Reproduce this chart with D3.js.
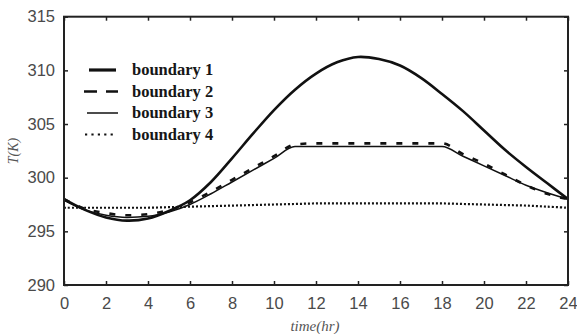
<!DOCTYPE html>
<html>
<head>
<meta charset="utf-8">
<script src="https://cdn.jsdelivr.net/npm/d3@7"></script>
<style>
  html, body { margin: 0; padding: 0; background: #fff; }
  svg { display: block; }
</style>
</head>
<body>
<svg id="chart" width="577" height="334"></svg>
<script>
// Hourly temperature (K) for the four boundary conditions
const hours = [0,1,2,3,4,5,6,7,8,9,10,11,12,13,14,15,16,17,18,19,20,21,22,23,24];
const boundary1 = [298.0,297.0,296.3,296.0,296.2,296.9,297.9,299.6,301.8,304.1,306.3,308.2,309.7,310.75,311.25,311.05,310.45,309.3,307.8,306.2,304.4,302.6,301.0,299.5,298.0];
const boundary2 = [298.0,297.1,296.7,296.5,296.6,297.0,297.7,298.7,299.8,300.9,302.0,303.1,303.2,303.2,303.2,303.2,303.2,303.2,303.2,302.2,301.3,300.3,299.3,298.5,298.0];
const boundary3 = [297.9,297.0,296.5,296.3,296.4,296.8,297.5,298.5,299.6,300.7,301.8,302.9,302.9,302.9,302.9,302.9,302.9,302.9,302.9,302.0,301.1,300.2,299.3,298.6,298.0];
const boundary4 = [297.2,297.2,297.2,297.2,297.2,297.25,297.3,297.35,297.4,297.45,297.5,297.55,297.6,297.6,297.6,297.6,297.6,297.6,297.6,297.55,297.5,297.45,297.4,297.3,297.2];
const seriesNames = ["boundary 1","boundary 2","boundary 3","boundary 4"];
const xTicks = [0,2,4,6,8,10,12,14,16,18,20,22,24];
const yTicks = [290,295,300,305,310,315];

const styles = [
  { width: 2.6, dash: null,   legendDash: null,      curve: d3.curveCatmullRom.alpha(0.5) },
  { width: 2.6, dash: "6,10", legendDash: "13,9",    curve: d3.curveMonotoneX },
  { width: 1.5, dash: null,   legendDash: null,      curve: d3.curveMonotoneX },
  { width: 2.2, dash: "2,2",  legendDash: "2.2,4.2", curve: d3.curveCatmullRom.alpha(0.5) }
];

const svg = d3.select("#chart");
const m = { left: 64, right: 568, top: 16.7, bottom: 285 };

const x = d3.scaleLinear().domain([0, 24]).range([m.left, m.right]);
const y = d3.scaleLinear().domain([290, 315]).range([m.bottom, m.top]);

const tickColor = "#4a4a4a";
const axisFont = "'Liberation Sans', Arial, sans-serif";
const serif = "'Liberation Serif', 'Times New Roman', serif";

// Curves
const allSeries = [boundary1, boundary2, boundary3, boundary4];
const plot = svg.append("g");
allSeries.forEach((vals, i) => {
  const line = d3.line()
    .x(d => x(d[0]))
    .y(d => y(d[1]))
    .curve(styles[i].curve);
  plot.append("path")
    .datum(hours.map((h, k) => [h, vals[k]]))
    .attr("fill", "none")
    .attr("stroke", "#111")
    .attr("stroke-width", styles[i].width)
    .attr("stroke-dasharray", styles[i].dash)
    .attr("stroke-linejoin", "round")
    .attr("d", line);
});

// Axes with inward ticks on all four sides
function styleAxis(g) {
  g.select(".domain").remove();
  g.selectAll(".tick line").attr("stroke", "#222").attr("stroke-width", 1.5);
  g.selectAll(".tick text")
    .attr("fill", tickColor)
    .attr("font-family", axisFont)
    .attr("font-size", 16.5);
}

svg.append("g")
  .attr("transform", `translate(0,${m.bottom})`)
  .call(d3.axisBottom(x).tickValues(xTicks).tickSizeInner(-4).tickSizeOuter(0).tickPadding(12).tickFormat(d3.format("d")))
  .call(styleAxis);

svg.append("g")
  .attr("transform", `translate(0,${m.top})`)
  .call(d3.axisTop(x).tickValues(xTicks).tickSizeInner(-4).tickSizeOuter(0).tickFormat(""))
  .call(styleAxis);

svg.append("g")
  .attr("transform", `translate(${m.left},0)`)
  .call(d3.axisLeft(y).tickValues(yTicks).tickSizeInner(-4).tickSizeOuter(0).tickPadding(9).tickFormat(d3.format("d")))
  .call(styleAxis);

svg.append("g")
  .attr("transform", `translate(${m.right},0)`)
  .call(d3.axisRight(y).tickValues(yTicks).tickSizeInner(-4).tickSizeOuter(0).tickFormat(""))
  .call(styleAxis);

// Frame
svg.append("rect")
  .attr("x", m.left).attr("y", m.top)
  .attr("width", m.right - m.left).attr("height", m.bottom - m.top)
  .attr("fill", "none").attr("stroke", "#222").attr("stroke-width", 2);

// Axis titles
svg.append("text")
  .attr("x", 315).attr("y", 331)
  .attr("text-anchor", "middle")
  .attr("font-family", serif).attr("font-style", "italic")
  .attr("font-size", 15).attr("fill", "#555")
  .text("time(hr)");

svg.append("text")
  .attr("transform", "translate(18,151) rotate(-90)")
  .attr("text-anchor", "middle")
  .attr("font-family", serif).attr("font-style", "italic")
  .attr("font-size", 14).attr("fill", "#555")
  .text("T(K)");

// Legend
const legendRows = [70, 91.5, 113, 134.5];
const legendSpans = [[89, 116], [84, 118], [87, 118], [85, 116]];
const legend = svg.append("g");
seriesNames.forEach((name, i) => {
  legend.append("line")
    .attr("x1", legendSpans[i][0]).attr("x2", legendSpans[i][1])
    .attr("y1", legendRows[i]).attr("y2", legendRows[i])
    .attr("stroke", "#111")
    .attr("stroke-width", i === 0 ? 3.2 : styles[i].width)
    .attr("stroke-dasharray", styles[i].legendDash);
  legend.append("text")
    .attr("x", 132).attr("y", legendRows[i] + 5)
    .attr("font-family", serif).attr("font-weight", "bold")
    .attr("font-size", 16.5).attr("fill", "#161616")
    .text(name);
});
</script>
</body>
</html>
